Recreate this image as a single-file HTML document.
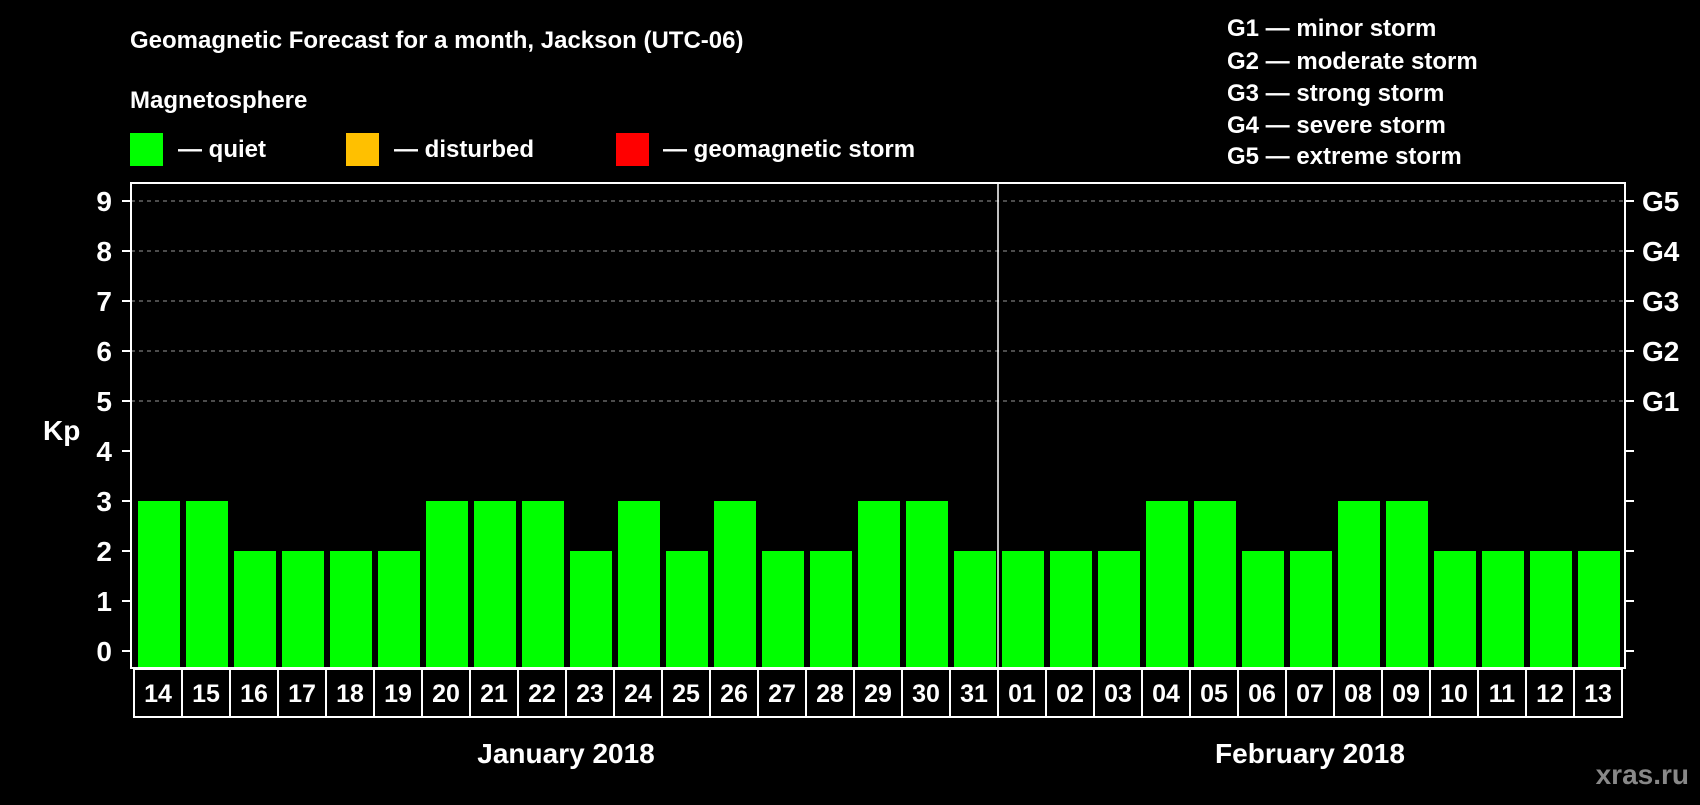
<!DOCTYPE html>
<html><head><meta charset="utf-8"><style>
html,body{margin:0;padding:0;background:#000;}
svg text{font-family:"Liberation Sans",sans-serif;font-weight:bold;fill:#fff;}
</style></head><body>
<svg id="chart" width="1700" height="800" xmlns="http://www.w3.org/2000/svg">
<rect width="1700" height="800" fill="#000"/>
<text x="130" y="48" font-size="24">Geomagnetic Forecast for a month, Jackson (UTC-06)</text>
<text x="130" y="108" font-size="24">Magnetosphere</text>
<g><rect x="130" y="133" width="33" height="33" fill="#00ff00"/><text x="178" y="157" font-size="24">— quiet</text></g>
<g><rect x="346" y="133" width="33" height="33" fill="#ffc000"/><text x="394" y="157" font-size="24">— disturbed</text></g>
<g><rect x="616" y="133" width="33" height="33" fill="#ff0000"/><text x="663" y="157" font-size="24">— geomagnetic storm</text></g>
<g font-size="24">
<text x="1227" y="36">G1 — minor storm</text>
<text x="1227" y="69">G2 — moderate storm</text>
<text x="1227" y="101">G3 — strong storm</text>
<text x="1227" y="133">G4 — severe storm</text>
<text x="1227" y="164">G5 — extreme storm</text>
</g>
<text x="43" y="440" font-size="28">Kp</text>
<g id="grid"></g>
<g id="bars"></g>
<rect x="131" y="183" width="1494" height="485" fill="none" stroke="#fff" stroke-width="2"/>
<g id="axes"></g>
<text x="566" y="763" font-size="28" text-anchor="middle">January 2018</text>
<text x="1310" y="763" font-size="28" text-anchor="middle">February 2018</text>
<text x="1689" y="784" font-size="28" text-anchor="end" style="fill:#888">xras.ru</text>
</svg>
<script>
const days = ["14","15","16","17","18","19","20","21","22","23","24","25","26","27","28","29","30","31","01","02","03","04","05","06","07","08","09","10","11","12","13"];
const kpValues = [3,3,2,2,2,2,3,3,3,2,3,2,3,2,2,3,3,2,2,2,2,3,3,2,2,3,3,2,2,2,2];
const yTicks = [0,1,2,3,4,5,6,7,8,9];
const gLevels = [5,6,7,8,9];
const gLabels = ["G1","G2","G3","G4","G5"];
const monthBreak = 18;
const NS="http://www.w3.org/2000/svg";
const x0=134, pitch=48, y0=651, unit=50;
const xs=i=>x0+i*pitch;
const ys=v=>y0-v*unit;
function mk(tag,attrs,parent){const e=document.createElementNS(NS,tag);for(const k in attrs)e.setAttribute(k,attrs[k]);parent.appendChild(e);return e;}
const grid=document.getElementById('grid'),bars=document.getElementById('bars'),axes=document.getElementById('axes');
gLevels.forEach((v,i)=>{
  const l=mk('line',{x1:131,x2:1625,y1:ys(v),y2:ys(v),stroke:'#999','stroke-width':1,'stroke-dasharray':'4,4'},grid);
  
  
  const t=mk('text',{x:1642,y:ys(v)+10,'font-size':28},axes);
  t.textContent=gLabels[i];
  
  
});
yTicks.forEach(v=>{
  mk('line',{x1:122,x2:131,y1:ys(v),y2:ys(v),stroke:'#fff','stroke-width':2},axes);
  mk('line',{x1:1625,x2:1634,y1:ys(v),y2:ys(v),stroke:'#fff','stroke-width':2},axes);
  const t=mk('text',{x:112,y:ys(v)+10,'font-size':28,'text-anchor':'end'},axes);
  t.textContent=v;
  
  
});
kpValues.forEach((v,i)=>{
  const c=v>=5?'#ff0000':(v>=4?'#ffc000':'#00ff00');
  const r=mk('rect',{x:xs(i)+4,y:ys(v),width:42,height:668-ys(v),fill:c},bars);
  
  
  const b=mk('rect',{x:xs(i),y:669,width:pitch,height:48,fill:'#000',stroke:'#fff','stroke-width':2},axes);
  
  
  const t=mk('text',{x:xs(i)+pitch/2,y:702,'font-size':25,'text-anchor':'middle'},axes);
  t.textContent=days[i];
  
  
});
const sep=mk('line',{x1:xs(monthBreak),x2:xs(monthBreak),y1:183,y2:668,stroke:'#fff','stroke-width':1.5},axes);


</script>
</body></html>
